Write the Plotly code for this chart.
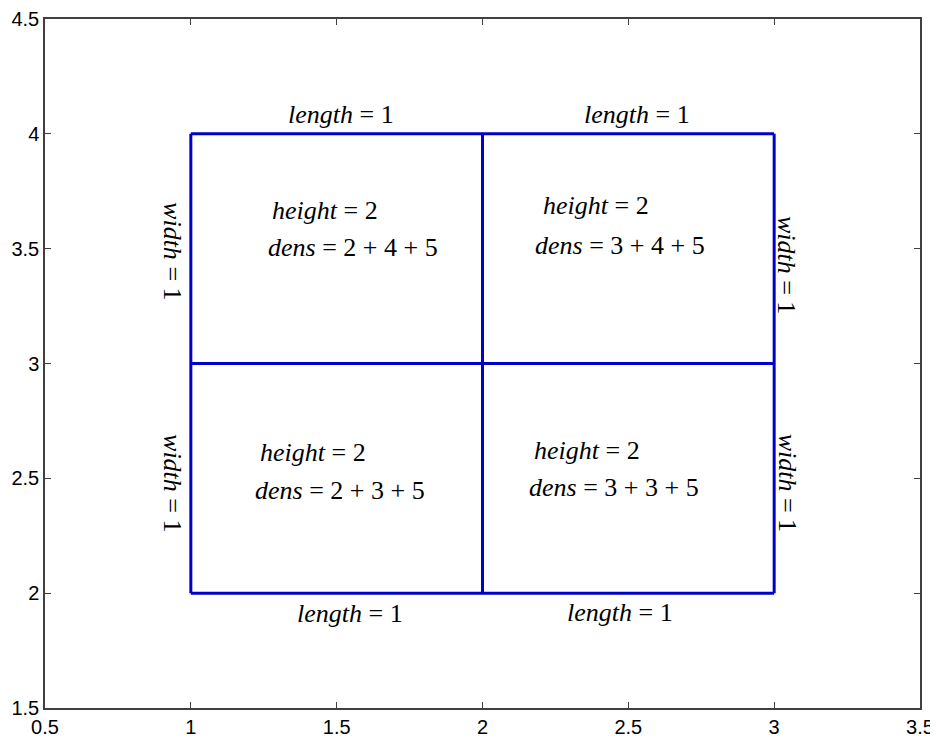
import plotly.graph_objects as go

# Grid cell edges
x_edges = [1, 2, 3]
y_edges = [2, 3, 4]

EQ = "&nbsp;=&nbsp;"

# Edge labels (text, x, y, angle)
edge_texts = ["<i>length</i>" + EQ + "1"] * 4 + ["<i>width</i>" + EQ + "1"] * 4
edge_x = [1.515, 2.53, 1.545, 2.47, 0.935, 0.935, 3.04, 3.045]
edge_y = [4.083, 4.083, 1.91, 1.915, 3.49, 2.48, 3.43, 2.48]
edge_angle = [0, 0, 0, 0, 90, 90, 90, 90]

# Cell labels
cell_texts = ["<i>height</i>" + EQ + "2", "<i>dens</i>" + EQ + "2 + 4 + 5",
              "<i>height</i>" + EQ + "2", "<i>dens</i>" + EQ + "3 + 4 + 5",
              "<i>height</i>" + EQ + "2", "<i>dens</i>" + EQ + "2 + 3 + 5",
              "<i>height</i>" + EQ + "2", "<i>dens</i>" + EQ + "3 + 3 + 5"]
cell_x = [1.271, 1.257, 2.199, 2.172, 1.23, 1.213, 2.168, 2.154]
cell_y = [3.665, 3.503, 3.686, 3.512, 2.612, 2.447, 2.621, 2.46]

fig = go.Figure()
line_color = "#0000CC"
for yv in y_edges:
    fig.add_trace(go.Scatter(x=[x_edges[0], x_edges[-1]], y=[yv, yv], mode="lines",
                             line=dict(color=line_color, width=3), showlegend=False, hoverinfo="skip"))
for xv in x_edges:
    fig.add_trace(go.Scatter(x=[xv, xv], y=[y_edges[0], y_edges[-1]], mode="lines",
                             line=dict(color=line_color, width=3), showlegend=False, hoverinfo="skip"))

tfont = dict(family="Liberation Serif, Times New Roman, serif", size=26, color="black")
for t, x, y, a in zip(edge_texts, edge_x, edge_y, edge_angle):
    fig.add_annotation(x=x, y=y, text=t, showarrow=False, textangle=a, font=tfont,
                       xanchor="center", yanchor="middle")
for t, x, y in zip(cell_texts, cell_x, cell_y):
    fig.add_annotation(x=x, y=y, text=t, showarrow=False, font=tfont,
                       xanchor="left", yanchor="middle")

axis_common = dict(showline=True, linecolor="#404040", linewidth=1.5, mirror="ticks",
                   ticks="inside", ticklen=6, tickcolor="#404040", showgrid=False, zeroline=False,
                   automargin=False,
                   tickfont=dict(family="Liberation Sans, Arial, sans-serif", size=20, color="black"))
fig.update_xaxes(range=[0.5, 3.5], tickmode="array",
                 tickvals=[0.5, 1, 1.5, 2, 2.5, 3, 3.5],
                 ticktext=["0.5", "1", "1.5", "2", "2.5", "3", "3.5"], **axis_common)
fig.update_yaxes(range=[1.5, 4.5], tickmode="array",
                 tickvals=[1.5, 2, 2.5, 3, 3.5, 4, 4.5],
                 ticktext=["1.5", "2", "2.5", "3", "3.5", "4", "4.5"], **axis_common)
fig.update_layout(width=930, height=736, margin=dict(l=37, r=18, t=11, b=36),
                  paper_bgcolor="white", plot_bgcolor="white")
fig.write_html("out.html")
